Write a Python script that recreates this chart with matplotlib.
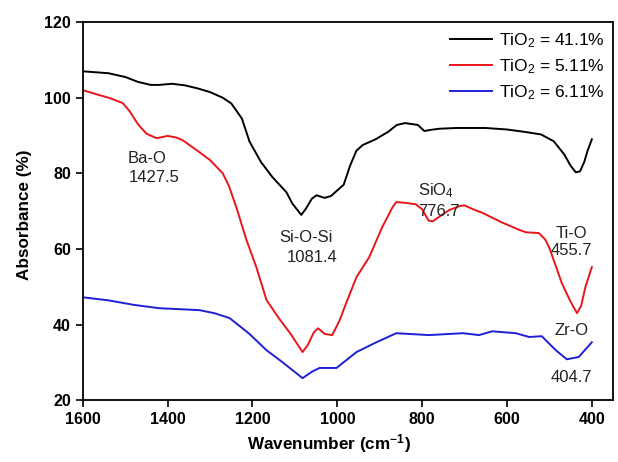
import matplotlib
matplotlib.use("Agg")
import matplotlib.pyplot as plt

# FTIR spectra
black_x = [1600, 1540, 1500, 1470, 1440, 1420, 1390, 1360, 1330, 1300, 1270, 1250, 1225, 1207,
           1180, 1153, 1120, 1106, 1085, 1075, 1060, 1049, 1030, 1015, 1000, 985, 970, 955, 940,
           910, 880, 860, 840, 810, 795, 780, 760, 720, 650, 600, 560, 520, 490, 465, 450, 438,
           428, 418, 410, 400]
black_y = [107, 106.5, 105.5, 104.2, 103.4, 103.4, 103.7, 103.3, 102.5, 101.5, 100, 98.5, 94.5, 88.4,
           83, 79, 75, 72, 69, 70.5, 73.3, 74.2, 73.5, 74, 75.5, 77, 82, 86, 87.5,
           89, 91, 92.8, 93.3, 92.8, 91.2, 91.5, 91.8, 92, 92, 91.6, 91, 90.3, 88.5, 85, 82, 80.3,
           80.5, 83, 86, 89]

red_x = [1600, 1570, 1536, 1506, 1490, 1470, 1450, 1426, 1400, 1380, 1365, 1330, 1300, 1270, 1255,
         1238, 1214, 1191, 1167, 1140, 1110, 1082, 1070, 1055, 1045, 1030, 1012, 995, 979, 955,
         925, 894, 870, 861, 840, 815, 800, 785, 775, 760, 736, 710, 700, 680, 657, 612, 570,
         555, 525, 510, 501, 485, 471, 450, 435, 425, 415, 400]
red_y = [102, 101, 99.9, 98.6, 96.5, 93, 90.5, 89.3, 89.9, 89.5, 88.8, 86, 83.5, 80, 76.5,
         71, 62.3, 55.2, 46.5, 42, 37.5, 32.7, 34.5, 38, 39, 37.5, 37.2, 41, 45.7, 52.5,
         57.8, 65.8, 71, 72.4, 72.2, 71.8, 70.5, 67.5, 67.3, 68.5, 70.3, 71.4, 71.5, 70.5, 69.5, 67, 65,
         64.4, 64.2, 62.5, 60.5, 55.5, 51, 46, 43, 45, 50, 55.2]

blue_x = [1600, 1540, 1480, 1419, 1380, 1325, 1290, 1254, 1207, 1167, 1129, 1082, 1060, 1042,
          1002, 955, 908, 861, 784, 704, 666, 635, 579, 548, 518, 485, 459, 431, 400]
blue_y = [47.2, 46.4, 45.2, 44.3, 44.1, 43.8, 43.0, 41.7, 37.5, 33.2, 30.0, 25.8, 27.5, 28.5,
          28.5, 32.7, 35.3, 37.7, 37.2, 37.7, 37.2, 38.2, 37.7, 36.7, 36.9, 33.2, 30.8, 31.4, 35.3]

labels = ["TiO$_2$ = 41.1%", "TiO$_2$ = 5.11%", "TiO$_2$ = 6.11%"]

plt.rcParams['font.family'] = ['Liberation Sans', 'DejaVu Sans']
plt.rcParams['mathtext.default'] = 'regular'

fig = plt.figure(figsize=(6.18, 4.62), dpi=100)
ax = fig.add_axes([0.134, 0.134, 0.858, 0.818])

ax.plot(black_x, black_y, color='black', lw=1.4, label=labels[0])
ax.plot(red_x, red_y, color='#e8161b', lw=1.4, label=labels[1])
ax.plot(blue_x, blue_y, color='#1f1fd8', lw=1.4, label=labels[2])

ax.set_xlim(1600, 350)
ax.set_ylim(20, 120)
ax.set_xticks([1600, 1400, 1200, 1000, 800, 600, 400])
ax.set_yticks([20, 40, 60, 80, 100, 120])
ax.tick_params(direction='out', length=5, width=1.2, labelsize=11.5, top=False, right=False)
for lab in ax.get_xticklabels() + ax.get_yticklabels():
    lab.set_fontweight('bold')
for s in ax.spines.values():
    s.set_linewidth(1.3)

ax.set_xlabel("Wavenumber (cm$^{-1}$)", fontsize=12.3, fontweight='bold')
ax.set_ylabel("Absorbance (%)", fontsize=12.3, fontweight='bold')
ax.xaxis.set_label_coords(0.464, -0.085)
ax.yaxis.set_label_coords(-0.095, 0.49)

# peak annotations
fs = 12
tc = '#222222'
ax.text(1449, 84, "Ba-O", fontsize=fs, ha='center', va='center', color=tc)
ax.text(1431, 78.8, "1427.5", fontsize=fs, ha='center', va='center', color=tc)
ax.text(1073, 62.9, "Si-O-Si", fontsize=fs, ha='center', va='center', color=tc)
ax.text(1059, 57.8, "1081.4", fontsize=fs, ha='center', va='center', color=tc)
ax.text(767, 75.3, "SiO$_4$", fontsize=fs, ha='center', va='center', color=tc)
ax.text(760, 70, "776.7", fontsize=fs, ha='center', va='center', color=tc)
ax.text(447, 64.2, "Ti-O", fontsize=fs, ha='center', va='center', color=tc)
ax.text(449, 59.5, "455.7", fontsize=fs, ha='center', va='center', color=tc)
ax.text(447, 38.5, "Zr-O", fontsize=fs, ha='center', va='center', color=tc)
ax.text(449, 26, "404.7", fontsize=fs, ha='center', va='center', color=tc)

ax.legend(loc='upper right', bbox_to_anchor=(1, 1), borderaxespad=0, fontsize=12.5,
          handlelength=2.4, handletextpad=0.4, labelspacing=0.44, borderpad=0.5,
          frameon=False)

fig.savefig("out.png", dpi=100)
